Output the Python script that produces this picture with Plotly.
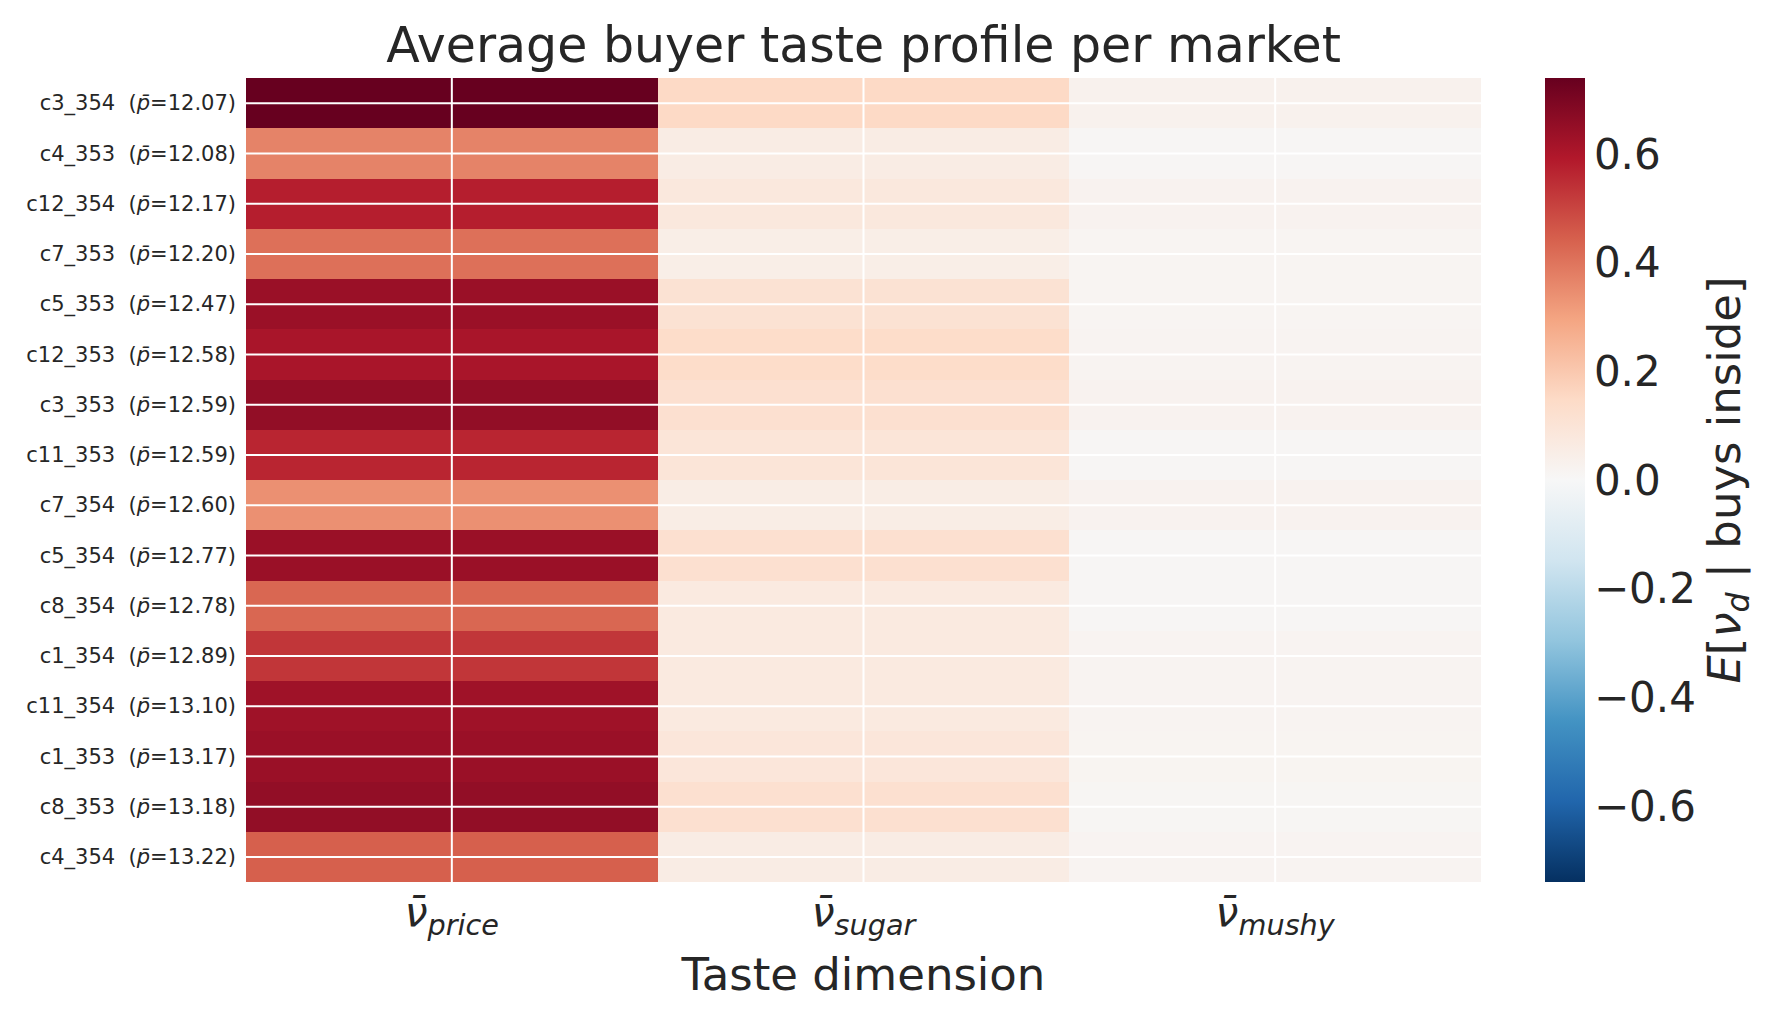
import plotly.graph_objects as go

# markets sorted by mean price, top to bottom
markets = ["c3_354", "c4_353", "c12_354", "c7_353", "c5_353", "c12_353", "c3_353", "c11_353",
           "c7_354", "c5_354", "c8_354", "c1_354", "c11_354", "c1_353", "c8_353", "c4_354"]
mean_price = [12.07, 12.08, 12.17, 12.20, 12.47, 12.58, 12.59, 12.59,
              12.60, 12.77, 12.78, 12.89, 13.10, 13.17, 13.18, 13.22]

dims = ["price", "sugar", "mushy"]

nu_price = [0.74, 0.37, 0.58, 0.41, 0.64, 0.61, 0.655, 0.565,
            0.34, 0.64, 0.43, 0.53, 0.63, 0.64, 0.655, 0.445]
nu_sugar = [0.15, 0.06, 0.08, 0.05, 0.11, 0.14, 0.12, 0.095,
            0.055, 0.12, 0.07, 0.07, 0.07, 0.09, 0.12, 0.06]
nu_mushy = [0.03, 0.01, 0.025, 0.015, 0.015, 0.02, 0.025, 0.01,
            0.025, 0.008, 0.008, 0.02, 0.02, 0.018, 0.012, 0.02]

cbar_ticks = [-0.6, -0.4, -0.2, 0.0, 0.2, 0.4, 0.6]

# matplotlib RdBu_r
rdbu = ["#053061", "#2166ac", "#4393c3", "#92c5de", "#d1e5f0", "#f7f7f7",
        "#fddbc7", "#f4a582", "#d6604d", "#b2182b", "#67001f"]
cscale = [[i / 10, c] for i, c in enumerate(rdbu)]

z = [[p, s, m] for p, s, m in zip(nu_price, nu_sugar, nu_mushy)]
vmax = max(abs(v) for row in z for v in row)

ylabels = [f"{m}  (<i>p̄</i>={p:.2f})" for m, p in zip(markets, mean_price)]
xlabels = [f"<i>ν̄</i><sub><i>{d}</i></sub>" for d in dims]

txt = "#262626"
font = "DejaVu Sans"

fig = go.Figure(go.Heatmap(
    z=z, x=list(range(len(dims))), y=list(range(len(markets))),
    colorscale=cscale, zmin=-vmax, zmax=vmax,
    colorbar=dict(
        x=1.052, xanchor="left", xpad=0, y=0.5, len=1.0, ypad=0, thickness=40,
        outlinewidth=0, ticks="", tickvals=cbar_ticks,
        ticktext=[f"{t:.1f}".replace("-", "−") for t in cbar_ticks],
        tickfont=dict(size=42, color=txt, family=font),
        title=dict(text="<i>E</i>[<i>ν<sub>d</sub></i> | buys inside]", side="right",
                   font=dict(size=45, color=txt, family=font)),
    ),
))

# white grid lines through cell centres (drawn on top like seaborn style)
for i in range(len(markets)):
    fig.add_hline(y=i, line=dict(color="white", width=2), layer="above")
for j in range(len(dims)):
    fig.add_vline(x=j, line=dict(color="white", width=2), layer="above")

fig.update_layout(
    width=1782, height=1020,
    margin=dict(l=238, r=309, t=70, b=146),
    paper_bgcolor="white", plot_bgcolor="white",
    font=dict(family=font, color=txt),
    title=dict(text="Average buyer taste profile per market", x=0.5, xref="paper",
               xanchor="center", y=0.964, yref="container", yanchor="middle",
               font=dict(size=49, color=txt, family=font)),
)
fig.update_xaxes(tickvals=list(range(len(dims))), ticktext=xlabels, showgrid=False,
                 zeroline=False, showline=False, ticks="", ticklabelstandoff=2,
                 tickfont=dict(size=41, color=txt, family=font),
                 title=dict(text="Taste dimension", standoff=17,
                            font=dict(size=45, color=txt, family=font)))
fig.update_yaxes(tickvals=list(range(len(markets))), ticktext=ylabels, showgrid=False,
                 zeroline=False, showline=False, ticks="", autorange="reversed",
                 ticklabelstandoff=9, tickfont=dict(size=21, color=txt, family=font))

fig.write_html("out.html")
